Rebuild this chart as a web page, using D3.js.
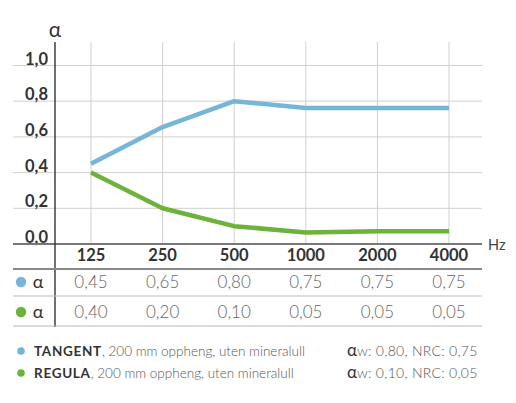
<!DOCTYPE html>
<html><head><meta charset="utf-8">
<script src="https://cdn.jsdelivr.net/npm/d3@7"></script>
<style>
html,body{margin:0;padding:0;background:#fff;}
svg{display:block;font-family:Lato,"Open Sans",sans-serif;}
</style></head>
<body>
<svg id="c" width="516" height="403"></svg>
<script>
const categories = ["125","250","500","1000","2000","4000"];
const yTicks = [0,0.2,0.4,0.6,0.8,1.0];
const yTickLabels = ["0,0","0,2","0,4","0,6","0,8","1,0"];
const tangentCurve = [0.45,0.655,0.80,0.762,0.762,0.762];
const regulaCurve = [0.40,0.20,0.10,0.065,0.072,0.072];
const tangentTable = ["0,45","0,65","0,80","0,75","0,75","0,75"];
const regulaTable = ["0,40","0,20","0,10","0,05","0,05","0,05"];
const seriesNames = ["TANGENT","REGULA"];
const seriesDesc = [", 200 mm oppheng, uten mineralull",", 200 mm oppheng, uten mineralull"];
const seriesRating = [": 0,80, NRC: 0,75",": 0,10, NRC: 0,05"];
const colors = ["#76b4d8","#6cb23b"];

const svg = d3.select("#c");
const x = d3.scalePoint().domain(categories).range([91,449]);
const y = d3.scaleLinear().domain([0,1]).range([244,65.5]);
const left = 13, right = 482;

// horizontal grid
svg.append("g").selectAll("line").data(yTicks.filter(d=>d>0)).join("line")
  .attr("x1",left).attr("x2",right).attr("y1",d=>y(d)).attr("y2",d=>y(d))
  .attr("stroke",d=>d===0.8?"#e0e0e0":"#cfcfcf").attr("stroke-width",d=>d===0.8?1.6:1);
// vertical grid
svg.append("g").selectAll("line").data(categories).join("line")
  .attr("x1",d=>x(d)).attr("x2",d=>x(d)).attr("y1",42).attr("y2",244)
  .attr("stroke","#cfcfcf").attr("stroke-width",1);

// y tick labels
svg.append("g").selectAll("text").data(yTicks).join("text")
  .attr("x",48).attr("y",d=>y(d)-1).attr("text-anchor","end")
  .attr("font-size",16.5).attr("font-weight",700).attr("fill","#333")
  .text((d,i)=>yTickLabels[i]);
svg.append("text").attr("x",55).attr("y",37).attr("text-anchor","middle")
  .attr("font-size",21).attr("fill","#333").text("α");

// lines
const line = d3.line().x((d,i)=>x(categories[i])).y(d=>y(d));
[tangentCurve,regulaCurve].forEach((s,k)=>{
  svg.append("path").datum(s).attr("d",line).attr("fill","none")
    .attr("stroke",colors[k]).attr("stroke-width",4.5).attr("stroke-linejoin","round");
});

// baseline & y-axis
svg.append("line").attr("x1",left).attr("x2",right).attr("y1",244).attr("y2",244)
  .attr("stroke","#777").attr("stroke-width",2);
svg.append("line").attr("x1",55).attr("x2",55).attr("y1",42).attr("y2",327)
  .attr("stroke","#333").attr("stroke-width",1.4);
svg.append("text").attr("x",488).attr("y",250).attr("font-size",14.5).attr("fill","#444").text("Hz");

// table
svg.append("g").selectAll("text").data(categories).join("text")
  .attr("x",d=>x(d)).attr("y",261).attr("text-anchor","middle")
  .attr("font-size",16.5).attr("font-weight",700).attr("fill","#333").text(d=>d);
svg.append("line").attr("x1",left).attr("x2",right).attr("y1",269).attr("y2",269)
  .attr("stroke","#888").attr("stroke-width",2);
svg.append("line").attr("x1",left).attr("x2",right).attr("y1",296).attr("y2",296)
  .attr("stroke","#bbb").attr("stroke-width",1.2);
svg.append("line").attr("x1",left).attr("x2",right).attr("y1",326).attr("y2",326)
  .attr("stroke","#bbb").attr("stroke-width",1.2);

[tangentTable,regulaTable].forEach((row,k)=>{
  const cy = k===0?282:312;
  svg.append("circle").attr("cx",21).attr("cy",cy).attr("r",5.2).attr("fill",colors[k]);
  svg.append("text").attr("x",38).attr("y",cy+5.5).attr("text-anchor","middle")
    .attr("font-size",18).attr("fill","#333").text("α");
  svg.append("g").selectAll("text").data(row).join("text")
    .attr("x",(d,i)=>x(categories[i])).attr("y",cy+6).attr("text-anchor","middle")
    .attr("font-size",17).attr("font-weight",300).attr("fill","#666").text(d=>d);
});

// legend
seriesNames.forEach((n,k)=>{
  const cy = k===0?351:373;
  svg.append("circle").attr("cx",21).attr("cy",cy).attr("r",3.8).attr("fill",colors[k]);
  const t = svg.append("text").attr("x",34).attr("y",cy+4.5).attr("font-size",13.5).attr("fill","#555");
  t.append("tspan").attr("font-weight",700).attr("fill","#333").attr("letter-spacing",0.7).text(n);
  t.append("tspan").attr("font-weight",300).text(seriesDesc[k]);
  const r = svg.append("text").attr("x",347).attr("y",cy+4.5).attr("font-size",14).attr("fill","#555");
  r.append("tspan").attr("font-size",17).attr("fill","#333").text("α");
  r.append("tspan").attr("font-weight",300).attr("letter-spacing",0.3).text("w"+seriesRating[k]);
});
</script>
</body></html>
